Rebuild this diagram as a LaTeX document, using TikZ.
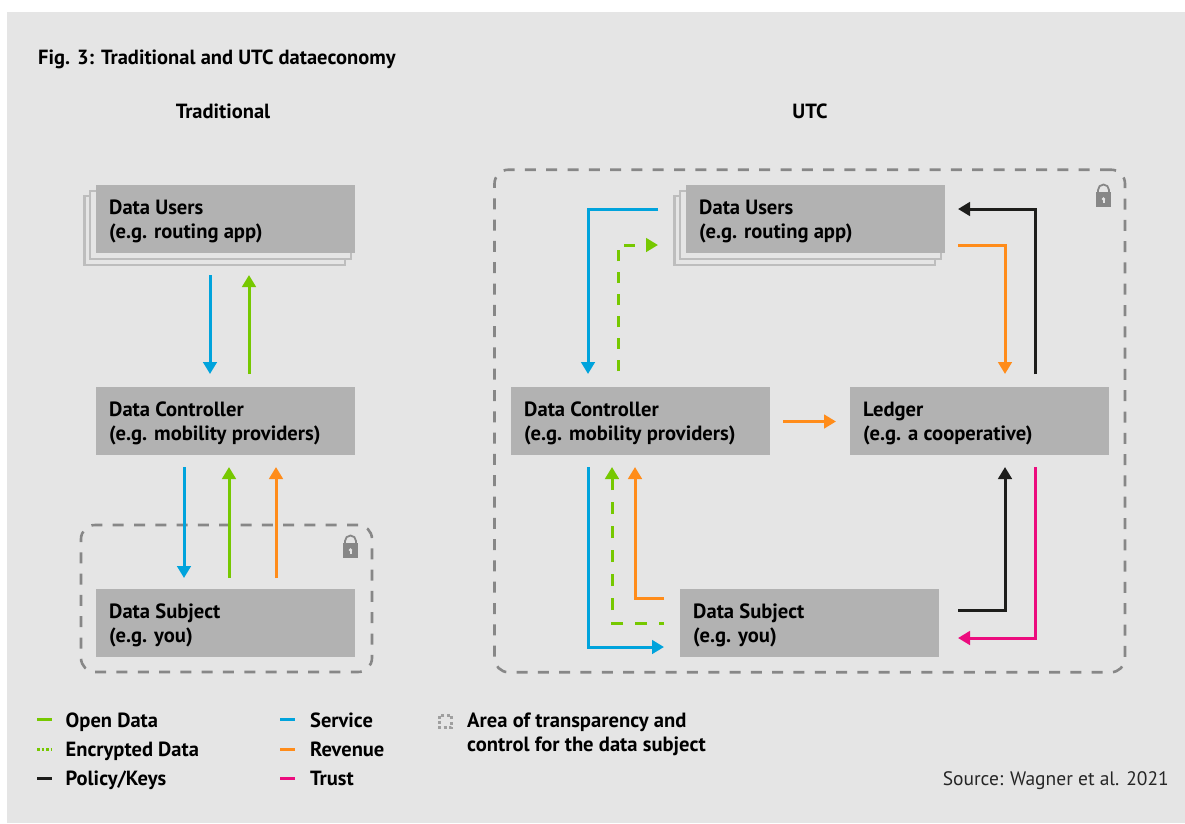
\documentclass[tikz,border=0pt]{standalone}
\usepackage{fontspec}
\setmainfont{PT Sans}
\usetikzlibrary{arrows.meta}
\definecolor{panel}{HTML}{E5E5E5}
\definecolor{boxg}{HTML}{B2B2B2}
\definecolor{stackg}{HTML}{BDBDBD}
\definecolor{dashg}{HTML}{878787}
\definecolor{cgreen}{HTML}{76C800}
\definecolor{cblue}{HTML}{00A3DC}
\definecolor{corange}{HTML}{FF8C1A}
\definecolor{cpink}{HTML}{EC0C7E}
\definecolor{cblack}{HTML}{1D1D1B}
\tikzset{
  x=1pt,y=-1pt,
  lab/.style={font=\bfseries\fontsize{20.6}{24}\selectfont,text=black,anchor=north west,align=left,inner sep=0pt},
  title/.style={font=\bfseries\fontsize{20.5}{24}\selectfont,text=black,inner sep=0pt,anchor=base},
  leg/.style={font=\bfseries\fontsize{20.5}{24}\selectfont,text=black,anchor=base west,inner sep=0pt},
  gbox/.style={fill=boxg,draw=none,inner sep=0pt,outer sep=0pt,anchor=north west},
  sbox/.style={fill=panel,draw=stackg,line width=2.2pt,inner sep=0pt,outer sep=0pt,anchor=north west},
  flow/.style={line width=3pt,-{Triangle[length=12pt,width=13.5pt]}},
  area/.style={draw=dashg,line width=2.6pt,dash pattern=on 11pt off 10.3pt,rounded corners=14pt,inner sep=0pt,outer sep=0pt,anchor=north west},
  legline/.style={line width=3pt}
}
\newcommand{\padlock}[2]{%
  \fill[dashg] (#1-7.5,#2-2) rectangle (#1+7.5,#2+13);
  \draw[dashg,line width=1.8pt] (#1-5.5,#2-2) -- (#1-5.5,#2-4) arc[start angle=180,end angle=0,x radius=5.5,y radius=-5.5] -- (#1+5.5,#2-2);
  \fill[panel] (#1,#2+5) circle (1.8);
  \fill[panel] (#1-1,#2+5) rectangle (#1+1,#2+9);
}
\begin{document}
\begin{tikzpicture}
\useasboundingbox (0,0) rectangle (1185,823);
\fill[white] (0,0) rectangle (1185,823);
\fill[panel] (7,12) rectangle (1185,823);

\node[title,anchor=base west] (figt) at (38,64) {Fig. 3: Traditional and UTC dataeconomy};
\node[title] (tradt) at (223,118) {Traditional};
\node[title] (utct) at (810,118) {UTC};

% areas
\node[area,minimum width=291pt,minimum height=147pt] (areaL) at (81,525) {};
\node[area,minimum width=630.5pt,minimum height=502.5pt] (areaR) at (494.5,169.7) {};
\padlock{350.5}{545}
\padlock{1103.5}{194}

% left stack
\node[sbox,minimum width=260.5pt,minimum height=69pt] (s1a) at (84.5,196) {};
\node[sbox,minimum width=261pt,minimum height=68pt] (s1b) at (90,191) {};
\node[gbox,minimum width=259pt,minimum height=68pt] (lu) at (96,185) {};
\node[lab] (lut) at (109,199.5) {Data Users\\(e.g. routing app)};
\node[gbox,minimum width=259pt,minimum height=68pt] (lc) at (96,387) {};
\node[lab] (lct) at (109,401.5) {Data Controller\\(e.g. mobility providers)};
\node[gbox,minimum width=259pt,minimum height=68pt] (ls) at (96,589) {};
\node[lab] (lst) at (109,603.5) {Data Subject\\(e.g. you)};

% right stack
\node[sbox,minimum width=260.5pt,minimum height=69pt] (s2a) at (674.5,196) {};
\node[sbox,minimum width=261pt,minimum height=68pt] (s2b) at (680,191) {};
\node[gbox,minimum width=259pt,minimum height=68pt] (ru) at (686,185) {};
\node[lab] (rut) at (699,199.5) {Data Users\\(e.g. routing app)};
\node[gbox,minimum width=259pt,minimum height=68pt] (rc) at (511,387) {};
\node[lab] (rct) at (524,401.5) {Data Controller\\(e.g. mobility providers)};
\node[gbox,minimum width=259pt,minimum height=68pt] (rl) at (850,387) {};
\node[lab] (rlt) at (863,401.5) {Ledger\\(e.g. a cooperative)};
\node[gbox,minimum width=259pt,minimum height=68pt] (rs) at (680,589) {};
\node[lab] (rst) at (693,603.5) {Data Subject\\(e.g. you)};

% free ends of the connectors
\coordinate (a1s) at (210,275); \coordinate (a1e) at (210,374);
\coordinate (a2s) at (249,374); \coordinate (a2e) at (249,275);
\coordinate (a3s) at (184,467); \coordinate (a3e) at (184,578);
\coordinate (a4s) at (229,578); \coordinate (a4e) at (229,467);
\coordinate (a5s) at (276,578); \coordinate (a5e) at (276,467);

\draw[flow,cblue] (a1s) -- (a1e);
\draw[flow,cgreen] (a2s) -- (a2e);
\draw[flow,cblue] (a3s) -- (a3e);
\draw[flow,cgreen] (a4s) -- (a4e);
\draw[flow,corange] (a5s) -- (a5e);

% right connectors
\draw[flow,cblue] (658,209) -- (588,209) -- (588,374);
\draw[flow,cgreen,dash pattern=on 11pt off 11pt,dash phase=19pt] (618,374) -- (618,245) -- (658,245);
\draw[flow,cblack] (1035,374) -- (1035,209) -- (958,209);
\draw[flow,corange] (958,245) -- (1005,245) -- (1005,374);
\draw[flow,corange] (783,421.5) -- (836,421.5);
\draw[flow,cblue] (588,467) -- (588,647) -- (664,647);
\draw[flow,cgreen,dash pattern=on 12pt off 12pt,dash phase=7pt] (664,623) -- (612,623) -- (612,467);
\draw[flow,corange] (664,598) -- (635,598) -- (635,467);
\draw[flow,cblack] (958,610) -- (1005,610) -- (1005,467);
\draw[flow,cpink] (1035,467) -- (1035,638) -- (958,638);

% legend
\draw[cgreen,legline] (37,719.5) -- (52,719.5);
\draw[cgreen,legline,dash pattern=on 2.5pt off 2pt] (37,749) -- (52,749);
\draw[cblack,legline] (37,778) -- (52,778);
\draw[cblue,legline] (280,719.5) -- (295,719.5);
\draw[corange,legline] (280,749) -- (295,749);
\draw[cpink,legline] (280,778) -- (295,778);
\node[leg] (l1) at (65.5,727) {Open Data};
\node[leg] (l2) at (65.5,756) {Encrypted Data};
\node[leg] (l3) at (65.5,785) {Policy/Keys};
\node[leg] (l4) at (310,727) {Service};
\node[leg] (l5) at (310,756) {Revenue};
\node[leg] (l6) at (310,785) {Trust};
\draw[dashg!80,line width=3pt,dash pattern=on 3pt off 2.4pt] (439.5,715.5) rectangle (451.5,727.5);
\node[lab] (l7) at (467,712.5) {Area of transparency and\\control for the data subject};
\node[font=\fontsize{19.5}{24}\selectfont,text=black!85,anchor=base east,inner sep=0pt] (src) at (1169,785) {Source: Wagner et al. 2021};
\end{tikzpicture}
\end{document}
